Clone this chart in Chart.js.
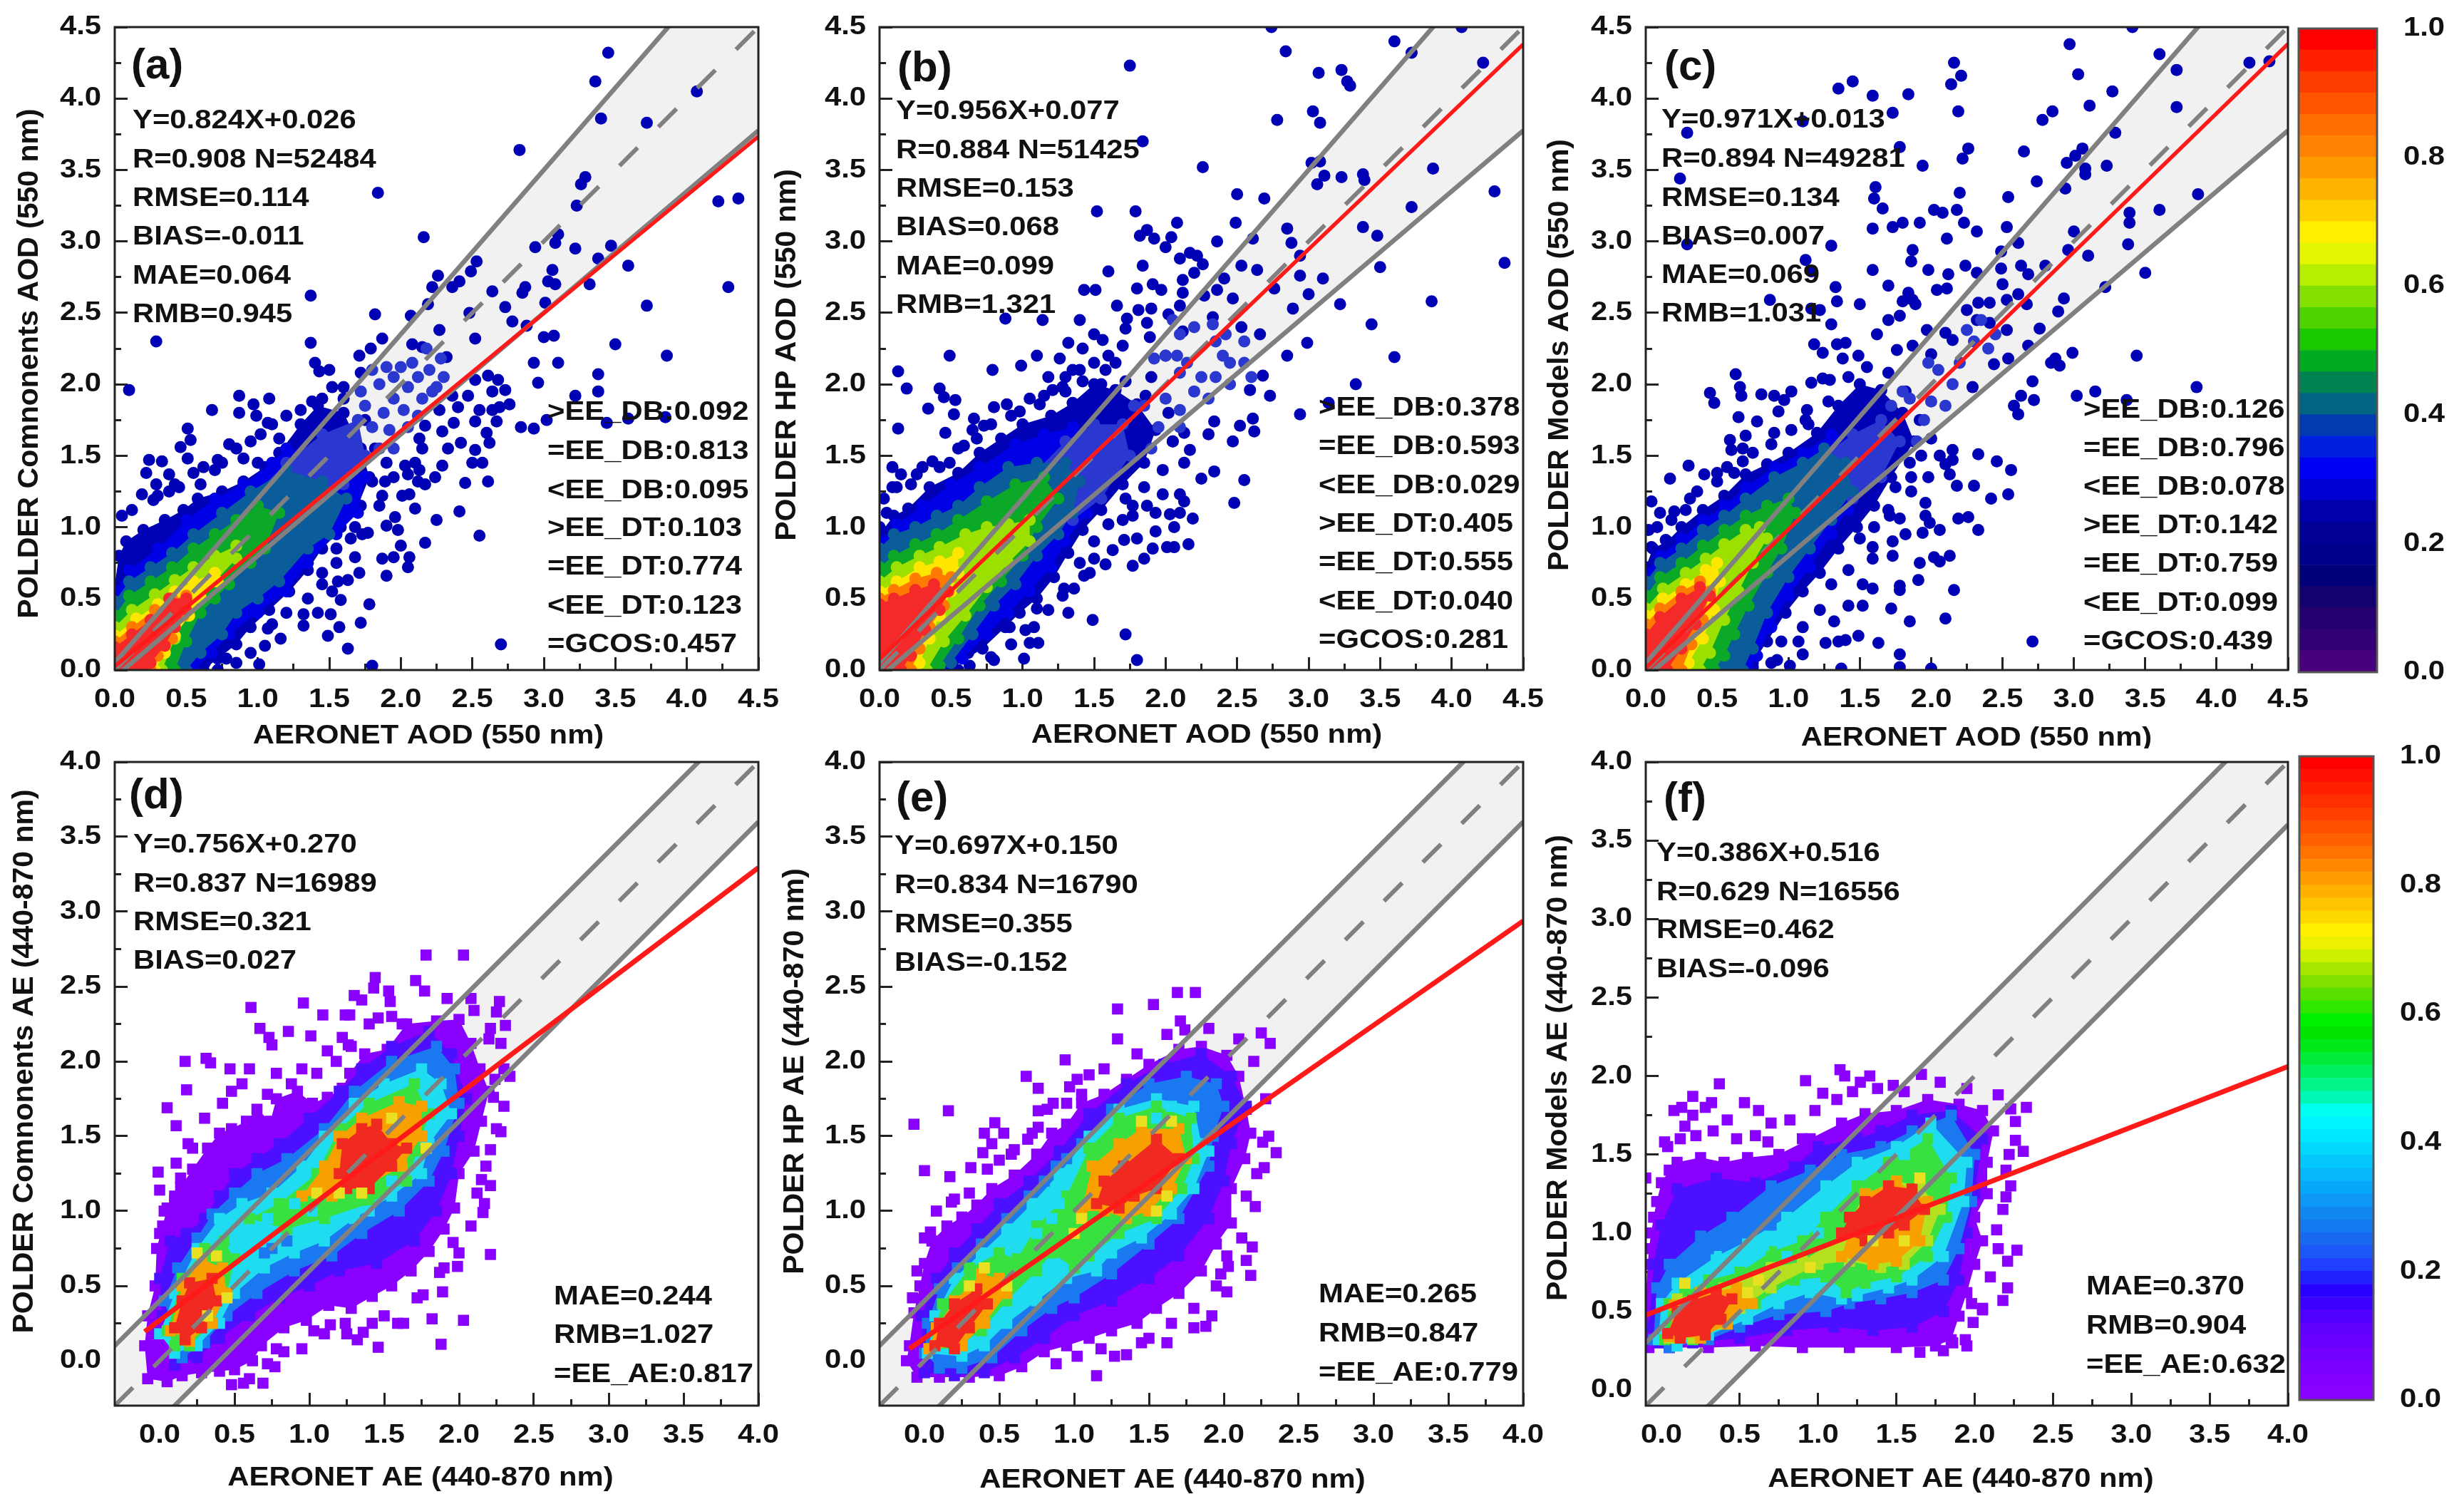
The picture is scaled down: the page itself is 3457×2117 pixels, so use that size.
<!DOCTYPE html>
<html>
<head>
<meta charset="utf-8">
<title>POLDER vs AERONET</title>
<script src="https://cdn.jsdelivr.net/npm/chart.js@4/dist/chart.umd.min.js"></script>
<style>
  html, body { margin: 0; padding: 0; background: #fff; }
  #page { position: relative; width: 3457px; height: 2117px; overflow: hidden; }
  canvas { position: absolute; }
</style>
</head>
<body>
<div id="page"></div>
<script>
// Tick positions
const aodTicks = [0, 0.5, 1, 1.5, 2, 2.5, 3, 3.5, 4, 4.5];
const aodMinorTicks = [0.25, 0.75, 1.25, 1.75, 2.25, 2.75, 3.25, 3.75, 4.25];
const aeTicks = [0, 0.5, 1, 1.5, 2, 2.5, 3, 3.5, 4];
const aeMinorTicks = [0.25, 0.75, 1.25, 1.75, 2.25, 2.75, 3.25, 3.75];
const colorbarLabels = ['0.0', '0.2', '0.4', '0.6', '0.8', '1.0'];

// Expected-error envelopes and 1:1 lines
const aodBand = [[0, 0.05], [4.5, 5.225], [4.5, 3.775], [0, -0.05]];
const aodUpper = [[0, 0.05], [4.5, 5.225]];
const aodLower = [[0, -0.05], [4.5, 3.775]];
const aodOneToOne = [[0, 0], [4.5, 4.5]];
const aeBand = [[-0.4, 0], [4, 4.4], [4, 3.6], [-0.4, -0.8]];
const aeUpper = [[-0.4, 0], [4, 4.4]];
const aeLower = [[-0.4, -0.8], [4, 3.6]];
const aeOneToOneWide = [[-0.3, -0.3], [4, 4]];
const aeOneToOneNarrow = [[-0.1, -0.1], [4, 4]];

// Regression lines
const fitA = [[0, 0.026], [4.5, 3.734]];
const fitB = [[0, 0.077], [4.5, 4.379]];
const fitC = [[0, 0.013], [4.5, 4.382]];
const fitD = [[-0.1, 0.194], [4, 3.294]];
const fitE = [[-0.1, 0.08], [4, 2.938]];
const fitF = [[-0.1, 0.477], [4, 2.06]];

// Scattered matchups, panel (a)
const scatterA = [[3.45,4.32],[3.36,4.12],[4.07,4.05],[3.40,3.86],[3.72,3.83],[2.83,3.64],[1.84,3.34],[3.29,3.45],[3.26,3.40],[3.23,3.25],[4.22,3.28],[4.36,3.30],[2.16,3.03],[3.10,3.05],[3.08,2.99],[2.94,2.96],[3.22,2.95],[3.47,2.97],[3.38,2.88],[2.53,2.86],[3.06,2.80],[3.59,2.83],[2.49,2.79],[2.26,2.76],[3.03,2.72],[3.08,2.70],[3.32,2.70],[4.29,2.68],[2.41,2.72],[2.36,2.68],[2.22,2.68],[2.64,2.65],[2.87,2.68],[2.85,2.64],[1.37,2.62],[2.19,2.56],[2.73,2.54],[3.01,2.57],[3.72,2.55],[1.82,2.49],[2.07,2.48],[2.48,2.50],[2.78,2.44],[2.88,2.41],[2.27,2.38],[2.52,2.32],[3.00,2.33],[3.07,2.34],[3.50,2.28],[0.29,2.30],[1.37,2.29],[1.87,2.32],[1.79,2.25],[1.71,2.20],[2.08,2.28],[2.15,2.26],[2.32,2.19],[3.10,2.15],[2.93,2.15],[3.86,2.20],[1.40,2.15],[1.50,2.10],[1.43,2.09],[1.72,2.08],[3.38,2.07],[2.96,2.01],[0.10,1.96],[0.87,1.92],[1.08,1.90],[0.97,1.86],[0.68,1.82],[0.87,1.80],[0.99,1.78],[3.22,1.92],[3.38,1.95],[1.07,1.73],[2.84,1.70],[2.93,1.69],[3.44,1.73],[3.59,1.76],[3.85,1.77],[3.02,1.75],[0.51,1.69],[0.53,1.61],[0.46,1.56],[0.51,1.48],[0.80,1.58],[0.24,1.47],[0.33,1.46],[0.22,1.38],[0.38,1.37],[0.29,1.30],[0.19,1.23],[0.27,1.19],[0.38,1.25],[0.45,1.28],[2.61,1.32],[2.45,1.31],[2.29,1.43],[2.24,1.35],[2.17,1.30],[2.41,1.11],[2.25,1.05],[2.55,0.94],[2.17,0.89],[2.00,0.87],[2.06,0.79],[2.05,0.72],[1.95,0.79],[1.87,0.78],[1.90,0.66],[1.98,0.98],[1.96,1.07],[2.10,1.13],[2.06,1.23],[2.70,0.18],[1.80,0.03],[1.63,0.15],[1.78,0.46],[1.72,0.33],[1.57,0.30],[1.49,0.24],[1.32,0.31],[1.32,0.39],[1.42,0.40],[1.51,0.39],[1.58,0.49],[1.52,0.55],[1.63,0.63],[1.71,0.68],[1.68,0.79],[1.56,0.62],[1.01,0.04],[1.05,0.17],[1.16,0.22],[1.07,0.29],[0.78,0.08],[0.63,0.05],[0.49,0.04],[1.77,0.96],[1.73,0.95],[1.90,1.01],[2.52,2.03],[2.61,2.06],[2.68,2.03],[2.73,1.96],[2.64,1.95],[2.76,1.86],[2.69,1.84],[2.55,1.82],[2.64,1.82],[2.67,1.74],[2.52,1.74],[2.60,1.66],[2.62,1.59],[2.52,1.54],[2.50,1.45],[2.57,1.45],[2.42,1.59],[2.33,1.55],[2.29,1.67],[2.37,1.73],[2.27,1.82],[2.40,1.84],[2.47,1.92],[2.36,1.92],[2.17,1.71],[2.13,1.62],[2.15,1.55],[2.10,1.45],[2.03,1.43],[2.12,1.32],[2.05,1.37],[2.01,1.22],[2.13,1.40],[1.89,1.32],[1.87,1.22],[1.85,1.15],[1.45,1.90],[1.52,1.98],[1.60,1.98],[1.33,1.68],[1.25,1.55],[1.15,1.62],[0.75,1.45],[0.70,1.40],[0.90,1.48],[1.00,1.45],[0.60,1.30],[1.55,0.75],[1.45,0.68],[1.65,0.92],[1.72,1.15],[1.80,1.32],[0.05,1.08],[0.12,1.12],[0.30,1.22],[0.42,1.30],[0.55,1.38],[0.62,1.42],[0.72,1.47],[0.85,1.55],[0.95,1.60],[1.02,1.65],[1.10,1.72],[1.20,1.78],[1.30,1.82],[1.38,1.88],[1.60,1.90],[1.75,1.75],[1.82,1.55],[1.90,1.45],[1.95,1.35],[1.68,1.00],[1.55,0.85],[1.45,0.60],[1.35,0.50],[1.20,0.40],[1.10,0.32],[0.95,0.12],[0.85,0.05],[0.72,0.0]];
const denseA = [[1.75,1.85],[1.85,2.0],[1.95,2.05],[2.0,2.12],[2.08,2.15],[1.8,2.1],[1.9,2.12],[2.12,2.05],[2.2,2.1],[2.28,2.18],[2.18,2.25],[2.05,1.98],[1.95,1.9],[2.02,1.82],[1.88,1.8],[1.8,1.7],[2.15,1.9],[1.92,1.68],[2.05,1.7],[1.85,1.55],[1.95,1.55],[2.22,1.95],[2.12,1.78],[1.72,1.95],[2.25,1.98],[2.3,2.05]];
const cloudA0 = [[0,0.6],[0.03,0.8],[0.08,0.9],[0.2,0.98],[0.35,1.05],[0.48,1.12],[0.58,1.2],[0.75,1.25],[0.9,1.32],[1.05,1.42],[1.15,1.52],[1.3,1.72],[1.42,1.85],[1.6,1.8],[1.72,1.55],[1.78,1.35],[1.7,1.15],[1.58,1],[1.45,0.85],[1.35,0.7],[1.22,0.55],[1.08,0.42],[0.95,0.3],[0.85,0.18],[0.72,0.08],[0.62,0],[0,0]];
const cloudA1 = [[0,0.55],[0.1,0.7],[0.3,0.85],[0.5,1.05],[0.7,1.2],[0.9,1.3],[1.1,1.45],[1.2,1.55],[1.55,1.5],[1.75,1.35],[1.7,1.1],[1.55,0.95],[1.35,0.75],[1.2,0.55],[1,0.4],[0.8,0.25],[0.68,0.12],[0.55,0],[0,0]];
const cloudA2 = [[0.95,1.2],[1.2,1.45],[1.45,1.65],[1.7,1.75],[1.75,1.5],[1.6,1.3],[1.4,1.15],[1.2,1.1]];
const cloudA3 = [[0,0.48],[0.1,0.62],[0.25,0.72],[0.4,0.82],[0.55,0.95],[0.75,1.1],[0.95,1.25],[1.2,1.4],[1.45,1.32],[1.62,1.2],[1.5,0.95],[1.35,0.85],[1.15,0.62],[1,0.5],[0.85,0.4],[0.75,0.25],[0.6,0.12],[0.5,0],[0,0]];
const cloudA4 = [[0,0.38],[0.1,0.52],[0.25,0.62],[0.4,0.72],[0.55,0.85],[0.7,0.95],[0.85,1.05],[1,1.15],[1.15,1.1],[1.05,0.85],[0.95,0.75],[0.8,0.6],[0.7,0.5],[0.6,0.4],[0.5,0.2],[0.42,0],[0,0]];
const cloudA5 = [[0,0.3],[0.12,0.42],[0.28,0.53],[0.42,0.63],[0.55,0.72],[0.7,0.8],[0.85,0.87],[0.85,0.78],[0.7,0.62],[0.6,0.52],[0.5,0.38],[0.42,0.22],[0.33,0],[0,0]];
const cloudA6 = [[0,0.24],[0.15,0.36],[0.3,0.46],[0.42,0.55],[0.55,0.62],[0.7,0.68],[0.72,0.62],[0.6,0.5],[0.52,0.38],[0.42,0.24],[0.35,0.12],[0.28,0],[0,0]];
const cloudA7 = [[0,0.2],[0.12,0.3],[0.28,0.42],[0.4,0.5],[0.5,0.52],[0.48,0.38],[0.4,0.22],[0.3,0.1],[0.25,0],[0,0]];
const cloudA8 = [[0,0.16],[0.12,0.25],[0.25,0.35],[0.38,0.5],[0.5,0.5],[0.5,0.42],[0.42,0.3],[0.35,0.17],[0.25,0.05],[0.2,0],[0,0]];

// Panel (b)
const scatterB = [[2.74,4.5],[3.60,4.40],[4.07,4.5],[2.84,4.33],[3.72,4.32],[1.75,4.23],[4.22,4.25],[3.07,4.18],[3.23,4.2],[3.27,4.12],[3.29,4.09],[3.03,3.91],[2.78,3.85],[3.08,3.83],[1.84,3.70],[3.02,3.55],[3.08,3.56],[3.87,3.51],[2.26,3.52],[3.11,3.46],[3.06,3.40],[3.23,3.45],[3.38,3.47],[3.39,3.43],[2.50,3.33],[2.69,3.30],[4.30,3.35],[3.72,3.24],[1.52,3.21],[1.79,3.21],[2.49,3.13],[2.08,3.13],[1.87,3.08],[3.38,3.10],[3.48,3.04],[2.85,3.09],[1.82,3.04],[1.92,3.02],[2.04,3.03],[2.0,2.96],[2.36,3.0],[2.61,3.02],[2.88,2.99],[2.10,2.88],[2.17,2.92],[2.22,2.9],[2.26,2.84],[4.37,2.85],[2.94,2.9],[3.5,2.82],[2.53,2.83],[2.64,2.80],[1.84,2.83],[1.6,2.79],[2.2,2.78],[2.94,2.76],[3.10,2.74],[2.41,2.74],[2.12,2.73],[1.91,2.70],[1.43,2.66],[1.51,2.66],[1.8,2.67],[1.97,2.66],[2.36,2.66],[2.12,2.64],[2.76,2.67],[3.0,2.63],[2.47,2.6],[3.86,2.58],[3.22,2.56],[2.1,2.55],[2.27,2.62],[1.66,2.55],[1.81,2.52],[1.9,2.53],[2.02,2.49],[2.89,2.53],[1.4,2.45],[1.14,2.45],[0.88,2.46],[1.73,2.46],[1.87,2.43],[1.72,2.39],[2.33,2.47],[2.53,2.4],[3.44,2.42],[1.5,2.35],[2.12,2.37],[1.89,2.33],[2.66,2.35],[2.99,2.29],[1.32,2.29],[1.42,2.25],[1.7,2.27],[1.56,2.31],[0.49,2.2],[2.85,2.2],[3.6,2.19],[1.1,2.2],[1.26,2.18],[0.13,2.09],[0.19,1.97],[0.79,2.1],[0.99,2.13],[0.42,1.97],[0.45,1.91],[0.53,1.89],[0.34,1.83],[0.52,1.79],[0.13,1.69],[0.46,1.66],[0.66,1.76],[0.73,1.71],[0.68,1.62],[3.33,2.0],[3.14,1.87],[2.94,1.79],[2.73,1.92],[2.68,2.06],[2.59,1.96],[2.61,1.76],[2.52,1.71],[2.62,1.67],[2.47,1.6],[2.34,1.74],[2.3,1.65],[2.34,1.39],[2.25,1.34],[2.55,1.33],[2.48,1.17],[2.19,1.06],[2.1,1.1],[2.13,1.18],[2.1,1.23],[1.98,1.23],[2.13,1.45],[2.17,1.54],[2.13,1.66],[2.05,1.6],[1.87,1.15],[1.93,1.1],[2.03,1.09],[2.06,1.0],[1.93,0.97],[2.16,0.88],[2.06,0.86],[2.01,0.86],[1.91,0.85],[1.85,0.78],[1.77,0.73],[1.77,1.15],[1.7,1.05],[1.77,1.08],[1.8,0.92],[1.71,0.91],[1.63,0.84],[1.58,0.74],[1.5,0.78],[1.47,0.68],[1.43,0.66],[1.36,0.57],[1.29,0.57],[1.49,0.35],[1.32,0.4],[1.1,0.43],[0.91,0.3],[1.08,0.3],[1.11,0.19],[1.05,0.19],[1.01,0.08],[1.72,0.25],[1.8,0.07],[0.63,0.03],[0.62,0.12],[0.78,0.09],[0.7,0.2],[0,1],[0.05,1.1],[0.09,1.42],[0.15,1.37],[0.09,1.28],[0.26,1.37],[0.37,1.46],[0.49,1.45],[0.59,1.57],[0.8,1.84],[0.89,1.86],[0.98,1.81],[1.12,1.86],[1.21,1.96],[1.3,2.05],[1.4,2.1],[1.5,2.15],[1.6,2.2],[1.3,1.95],[1.18,2.05],[1.35,2.1],[1.55,2.0],[1.65,2.15],[1.9,2.05],[2.0,2.2],[0.03,1.2],[0.12,1.28],[0.22,1.3],[0.3,1.42],[0.42,1.42],[0.55,1.55],[0.65,1.68],[0.78,1.72],[0.92,1.78],[1.05,1.9],[1.15,1.92],[1.28,1.98],[1.42,2.02],[1.58,2.1],[1.72,2.02],[1.86,1.92],[2.02,1.8],[2.05,1.6],[1.98,1.4],[1.85,1.28],[1.72,1.2],[1.6,1.02],[1.5,0.9],[1.4,0.75],[1.28,0.52],[1.18,0.42],[1.02,0.28],[0.92,0.18],[0.8,0.07],[0.55,0]];
const denseB = [[1.85,1.85],[1.95,1.7],[1.9,1.55],[2.0,1.9],[2.1,1.82],[2.2,1.95],[2.3,1.9],[2.1,2.08],[2.0,2.2],[1.92,2.18],[2.08,2.2],[2.15,2.15],[2.25,2.05],[1.78,1.85],[2.4,2.2],[2.45,2.15],[2.35,2.05],[2.1,2.35],[2.05,2.45],[2.2,2.4],[2.35,2.3],[2.33,2.42],[2.42,2.35],[2.55,2.15],[2.45,2.0],[2.55,2.3],[2.6,2.05],[2.1,1.7]];
const cloudB0 = [[0,0.95],[0.1,1.08],[0.2,1.13],[0.35,1.28],[0.55,1.38],[0.7,1.52],[0.85,1.62],[1,1.72],[1.2,1.78],[1.35,1.87],[1.5,2],[1.65,1.96],[1.8,1.86],[1.93,1.68],[1.85,1.45],[1.7,1.3],[1.55,1.12],[1.42,0.98],[1.32,0.82],[1.22,0.65],[1.1,0.5],[0.98,0.4],[0.88,0.3],[0.72,0.15],[0.48,0],[0,0]];
const cloudB1 = [[0,0.9],[0.12,1.02],[0.3,1.15],[0.5,1.3],[0.7,1.42],[0.95,1.58],[1.15,1.65],[1.35,1.7],[1.55,1.6],[1.6,1.35],[1.45,1.1],[1.3,0.9],[1.2,0.72],[1.05,0.55],[0.9,0.4],[0.75,0.25],[0.58,0.08],[0.48,0],[0,0]];
const cloudB2 = [[1.1,1.4],[1.3,1.6],[1.5,1.72],[1.7,1.72],[1.75,1.5],[1.55,1.2],[1.35,1.05]];
const cloudB3 = [[0,0.85],[0.1,0.95],[0.25,1],[0.4,1.08],[0.55,1.15],[0.7,1.28],[0.9,1.42],[1.1,1.45],[1.3,1.45],[1.4,1.32],[1.35,1.1],[1.25,0.95],[1.1,0.8],[0.95,0.6],[0.8,0.45],[0.65,0.25],[0.5,0.05],[0.42,0],[0,0]];
const cloudB4 = [[0,0.72],[0.1,0.8],[0.25,0.88],[0.4,0.95],[0.55,1.05],[0.75,1.18],[0.95,1.3],[1.15,1.35],[1.25,1.2],[1.1,1],[1,0.8],[0.85,0.62],[0.7,0.45],[0.55,0.22],[0.42,0.03],[0.35,0],[0,0]];
const cloudB5 = [[0,0.62],[0.12,0.72],[0.28,0.8],[0.42,0.86],[0.6,0.95],[0.75,1],[0.9,1.02],[1.05,1.05],[1.05,0.9],[0.9,0.75],[0.75,0.58],[0.6,0.38],[0.45,0.2],[0.33,0],[0,0]];
const cloudB6 = [[0,0.55],[0.12,0.62],[0.28,0.72],[0.42,0.76],[0.55,0.82],[0.55,0.68],[0.5,0.55],[0.42,0.38],[0.35,0.22],[0.28,0.05],[0.25,0],[0,0]];
const cloudB7 = [[0,0.5],[0.1,0.56],[0.25,0.64],[0.4,0.68],[0.5,0.65],[0.45,0.45],[0.35,0.3],[0.28,0.15],[0.22,0],[0,0]];
const cloudB8 = [[0,0.46],[0.1,0.5],[0.25,0.56],[0.38,0.6],[0.48,0.55],[0.42,0.42],[0.32,0.28],[0.22,0.1],[0.15,0],[0,0]];

// Panel (c)
const scatterC = [[3.41,4.5],[2.97,4.38],[3.6,4.31],[2.16,4.25],[3.72,4.2],[2.21,4.16],[3.03,4.17],[1.45,4.12],[1.35,4.07],[2.14,4.1],[4.23,4.25],[4.37,4.26],[3.27,4.05],[1.84,4.03],[1.59,4.02],[3.11,3.95],[3.72,3.94],[2.19,3.91],[1.73,3.9],[2.85,3.91],[2.78,3.85],[1.1,3.84],[0.29,3.76],[3.29,3.76],[1.78,3.66],[2.26,3.65],[2.65,3.63],[3.06,3.65],[2.22,3.58],[3.01,3.6],[2.95,3.55],[1.94,3.53],[3.08,3.51],[3.08,3.47],[3.23,3.53],[0.24,3.44],[2.74,3.42],[2.94,3.37],[1.61,3.38],[2.2,3.34],[1.6,3.3],[2.54,3.31],[3.87,3.33],[1.66,3.23],[2.02,3.22],[2.08,3.2],[2.18,3.22],[3.39,3.2],[3.6,3.22],[3.39,3.13],[2.23,3.13],[2.53,3.1],[1.92,3.13],[1.8,3.13],[1.73,3.1],[1.59,3.09],[2.32,3.07],[3.0,3.07],[0.29,2.98],[2.11,3.02],[1.3,2.97],[3.38,2.98],[2.61,2.99],[1.87,2.94],[2.49,2.93],[2.96,2.94],[3.1,2.9],[1.12,2.87],[1.86,2.86],[2.24,2.83],[2.32,2.78],[1.59,2.8],[1.98,2.8],[2.49,2.81],[2.63,2.83],[2.8,2.83],[3.5,2.78],[2.12,2.77],[2.68,2.77],[1.16,2.79],[2.5,2.7],[2.61,2.63],[1.7,2.69],[1.33,2.68],[3.22,2.68],[2.04,2.66],[2.11,2.67],[1.84,2.64],[1.87,2.59],[0.87,2.59],[1.34,2.58],[2.93,2.6],[2.33,2.57],[2.41,2.57],[2.53,2.59],[1.5,2.56],[2.67,2.56],[1.8,2.58],[1.89,2.56],[1.16,2.53],[1.22,2.52],[2.25,2.52],[2.89,2.51],[1.78,2.48],[1.7,2.45],[1.3,2.42],[2.32,2.45],[2.41,2.43],[2.76,2.39],[1.97,2.38],[1.62,2.35],[2.1,2.36],[2.53,2.38],[2.15,2.31],[1.87,2.27],[1.18,2.28],[1.4,2.29],[1.34,2.28],[2.68,2.27],[2.99,2.22],[1.24,2.22],[1.76,2.24],[3.44,2.2],[1.38,2.18],[1.49,2.2],[2.0,2.21],[2.54,2.18],[2.44,2.14],[2.87,2.18],[2.9,2.13],[2.84,2.15],[0.63,2.07],[0.66,1.98],[0.67,1.92],[0.45,1.94],[0.48,1.87],[0.81,1.93],[0.9,1.92],[1.02,1.95],[0.97,1.89],[0.93,1.81],[1.16,2.01],[1.24,2.04],[1.29,2.03],[3.86,1.98],[3.15,1.95],[3.02,1.92],[2.71,2.02],[2.63,1.92],[2.72,1.89],[2.58,1.85],[2.61,1.79],[3.37,1.89],[2.29,1.98],[0.65,1.77],[0.78,1.74],[0.9,1.66],[1.13,1.82],[1.14,1.72],[0.59,1.61],[0.7,1.64],[0.68,1.55],[0.68,1.46],[0.6,1.54],[0.3,1.43],[0.17,1.34],[0.41,1.37],[0.5,1.32],[0.57,1.42],[2.33,1.51],[2.46,1.46],[2.56,1.4],[2.54,1.23],[2.42,1.2],[2.3,1.29],[2.18,1.29],[2.13,1.37],[2.15,1.54],[2.15,1.47],[2.1,1.44],[1.98,1.35],[2.06,1.5],[1.93,1.5],[1.86,1.35],[1.86,1.25],[2.26,1.07],[2.19,1.06],[2.33,0.98],[2.06,0.98],[1.96,1.17],[1.94,0.96],[1.96,1.08],[1.99,1.03],[1.82,0.95],[1.71,1.08],[1.78,1.06],[1.73,0.9],[2.13,0.8],[2.02,0.79],[2.06,0.76],[1.92,0.75],[1.73,0.8],[1.59,0.86],[1.59,0.78],[1.91,0.63],[1.78,0.59],[1.78,0.56],[2.16,0.56],[1.59,0.57],[1.52,0.6],[1.52,0.45],[1.72,0.43],[2.1,0.36],[1.85,0.34],[1.42,0.45],[1.32,0.34],[1.63,0.19],[1.49,0.24],[1.4,0.21],[1.35,0.2],[1.26,0.19],[1.1,0.11],[0.92,0.07],[1.01,0.03],[1.37,0.01],[1.78,0.11],[1.78,0.02],[2.0,0.01],[2.71,0.2],[1.07,0.2],[0.04,1.18],[0.1,1.1],[0.2,1.11],[0.31,1.2],[0.14,0.91],[0.04,0.86],[0.02,0.98],[0.08,1.0],[0.18,1.05],[0.28,1.12],[0.36,1.25],[0.5,1.38],[0.62,1.38],[0.75,1.52],[0.88,1.58],[1.02,1.68],[1.12,1.75],[1.28,1.88],[1.42,2.05],[1.55,2.12],[1.7,2.08],[1.82,1.95],[1.92,1.75],[2.0,1.62],[1.85,1.45],[1.75,1.28],[1.7,1.12],[1.6,1.0],[1.5,0.92],[1.42,0.7],[1.3,0.6],[1.22,0.42],[1.1,0.3],[0.95,0.2],[0.88,0.05],[0.75,0.02]];
const denseC = [[1.85,1.9],[1.72,1.85],[1.95,1.75],[1.9,1.6],[2.0,1.88],[1.8,1.95],[2.1,1.85],[2.15,2.0],[2.05,2.1],[1.98,2.15],[2.2,2.15],[2.3,2.3],[2.25,2.38],[2.35,2.45],[2.4,2.25],[2.45,2.35]];
const cloudC0 = [[0,0.72],[0.05,0.85],[0.15,0.9],[0.25,1],[0.4,1.12],[0.55,1.22],[0.7,1.37],[0.85,1.44],[1,1.52],[1.2,1.66],[1.35,1.85],[1.5,2],[1.65,1.96],[1.8,1.8],[1.88,1.6],[1.72,1.35],[1.6,1.15],[1.48,1],[1.35,0.85],[1.22,0.68],[1.1,0.55],[0.98,0.4],[0.85,0.2],[0.75,0.05],[0.7,0],[0,0]];
const cloudC1 = [[0,0.68],[0.1,0.8],[0.25,0.92],[0.4,1.05],[0.55,1.15],[0.7,1.28],[0.9,1.42],[1.1,1.52],[1.3,1.65],[1.5,1.6],[1.55,1.35],[1.42,1.12],[1.3,0.95],[1.15,0.72],[1,0.52],[0.88,0.3],[0.78,0.1],[0.72,0],[0,0]];
const cloudC2 = [[1.25,1.5],[1.45,1.65],[1.65,1.75],[1.78,1.6],[1.65,1.35],[1.45,1.2]];
const cloudC3 = [[0,0.62],[0.1,0.75],[0.25,0.85],[0.4,0.98],[0.55,1.08],[0.7,1.2],[0.9,1.35],[1.1,1.45],[1.25,1.55],[1.4,1.45],[1.45,1.25],[1.3,1.05],[1.15,0.85],[1,0.65],[0.85,0.4],[0.75,0.15],[0.68,0],[0.45,0],[0,0]];
const cloudC4 = [[0,0.52],[0.1,0.65],[0.25,0.75],[0.4,0.87],[0.55,0.98],[0.7,1.08],[0.85,1.15],[1,1.2],[1.05,1.1],[0.95,0.85],[0.85,0.68],[0.72,0.45],[0.62,0.25],[0.55,0.1],[0.48,0],[0,0]];
const cloudC5 = [[0,0.43],[0.12,0.57],[0.28,0.68],[0.42,0.78],[0.55,0.88],[0.7,0.98],[0.8,1],[0.85,0.92],[0.75,0.75],[0.65,0.55],[0.55,0.35],[0.45,0.12],[0.38,0],[0,0]];
const cloudC6 = [[0,0.38],[0.12,0.5],[0.28,0.6],[0.42,0.7],[0.5,0.75],[0.52,0.62],[0.48,0.42],[0.4,0.22],[0.3,0.05],[0.28,0],[0,0]];
const cloudC7 = [[0,0.32],[0.1,0.43],[0.25,0.55],[0.38,0.62],[0.45,0.55],[0.4,0.35],[0.32,0.18],[0.25,0],[0,0]];
const cloudC8 = [[0,0.25],[0.1,0.37],[0.25,0.5],[0.38,0.58],[0.45,0.52],[0.35,0.32],[0.25,0.15],[0.15,0],[0,0]];

// Panel (d)
const scatterD = [[1.78,2.71],[2.03,2.71],[1.44,2.56],[1.71,2.54],[1.43,2.49],[1.3,2.44],[1.35,2.41],[1.53,2.47],[1.54,2.4],[1.77,2.47],[0.61,2.36],[0.96,2.39],[1.09,2.31],[1.24,2.31],[1.27,2.31],[1.46,2.29],[2.27,2.4],[2.1,2.34],[2.25,2.33],[2.31,2.24],[2.21,2.22],[2.28,2.12],[0.67,2.22],[0.73,2.16],[0.75,2.11],[0.86,2.2],[1.01,2.17],[1.22,2.16],[1.26,2.11],[1.12,2.07],[0.17,2],[0.31,2.02],[0.34,1.99],[0.47,1.95],[0.18,1.81],[0.05,1.69],[0.11,1.57],[0.19,1.45],[-0.01,1.26],[0,1.14],[0.11,1.32],[2.34,1.9],[2.24,1.88],[2.23,1.76],[2.28,1.53],[2.21,1.41],[2.15,1.21],[2.21,1.17],[2.17,1.05],[2.16,0.99],[2.21,0.71],[1.99,0.63],[1.96,0.79],[1.87,0.59],[1.89,0.46],[1.76,0.44],[1.82,0.28],[2.03,0.27],[1.59,0.25],[1.63,0.25],[1.88,0.11],[1.46,0.09],[1.32,0.14],[1.36,0.19],[1.24,0.25],[1.14,0.24],[1.03,0.2],[0.83,0.06],[0.77,-0.04],[0.69,-0.15],[0.56,-0.15],[0.48,-0.16],[0,0.85],[0.03,1.0],[0.1,1.1],[0.14,1.22],[0.22,1.42],[0.3,1.62],[0.42,1.72],[0.48,1.8],[0.55,1.85],[0.6,1.95],[0.72,1.78],[0.78,1.92],[0.88,1.85],[0.95,1.95],[1.05,1.92],[1.18,2.0],[1.28,2.1],[1.4,2.25],[1.55,2.3],[1.62,2.25],[1.92,2.42],[2.08,2.42],[2.2,2.15],[2.3,1.95],[2.3,1.7],[2.25,1.55],[2.18,1.3],[2.12,1.12],[2.08,0.9],[2.0,0.72],[1.9,0.62],[1.72,0.42],[1.5,0.3],[1.42,0.25],[1.25,0.18],[1.1,0.18],[0.95,0.08],[0.78,0.08],[0.72,-0.02],[0.6,-0.12]];
const cloudD0 = [[-0.08,-0.12],[-0.1,0.1],[-0.08,0.3],[-0.03,0.5],[-0.02,0.75],[0.02,0.9],[0.05,1.02],[0.1,1.07],[0.14,1.16],[0.22,1.28],[0.32,1.42],[0.4,1.52],[0.48,1.55],[0.58,1.6],[0.65,1.68],[0.74,1.6],[0.78,1.75],[0.92,1.8],[1.02,1.72],[1.12,1.76],[1.22,1.82],[1.27,1.92],[1.37,2.05],[1.52,2.08],[1.65,2.25],[1.85,2.27],[2,2.28],[2.08,2.12],[2.14,1.95],[2.2,1.8],[2.15,1.6],[2.1,1.4],[2,1.25],[1.97,1.02],[1.9,0.88],[1.8,0.73],[1.68,0.6],[1.55,0.5],[1.42,0.43],[1.28,0.35],[1.13,0.37],[0.98,0.27],[0.83,0.22],[0.68,0.1],[0.62,0],[0.5,-0.06],[0.4,-0.07],[0.28,-0.08],[0.15,-0.1],[0.05,-0.14]];
const cloudD1 = [[0.02,0.3],[0,0.55],[0.07,0.8],[0.18,0.85],[0.3,0.95],[0.4,1.1],[0.5,1.25],[0.65,1.35],[0.8,1.45],[1,1.62],[1.2,1.8],[1.35,1.95],[1.55,2.1],[1.8,2.2],[1.95,2.05],[2.05,1.75],[2,1.5],[1.95,1.25],[1.85,1],[1.7,0.8],[1.45,0.65],[1.2,0.6],[1,0.5],[0.8,0.42],[0.6,0.3],[0.4,0.15],[0.25,0.02],[0.1,-0.03]];
const cloudD2 = [[0.03,0.4],[0.12,0.62],[0.25,0.82],[0.35,0.98],[0.5,1.12],[0.65,1.25],[0.85,1.35],[1.1,1.55],[1.3,1.8],[1.55,2],[1.85,2.1],[1.97,1.95],[2,1.72],[1.9,1.4],[1.8,1.2],[1.6,1],[1.35,0.85],[1.15,0.7],[0.9,0.6],[0.65,0.45],[0.45,0.3],[0.3,0.12],[0.15,0.02]];
const cloudD3 = [[0,0.18],[0.1,0.45],[0.25,0.75],[0.4,0.95],[0.55,1.05],[0.75,1.12],[0.95,1.3],[1.1,1.5],[1.3,1.72],[1.5,1.85],[1.75,1.95],[1.88,1.85],[1.95,1.65],[1.8,1.45],[1.75,1.25],[1.55,1.1],[1.3,0.95],[1.1,0.8],[0.9,0.72],[0.7,0.62],[0.5,0.45],[0.4,0.25],[0.25,0.1],[0.1,0.05]];
const cloudD4 = [[0.05,0.2],[0.15,0.55],[0.3,0.75],[0.43,0.8],[0.5,0.68],[0.45,0.45],[0.35,0.25],[0.2,0.1],[0.1,0.1]];
const cloudD5 = [[0.6,0.95],[0.8,1.05],[1.05,1.25],[1.2,1.55],[1.4,1.72],[1.7,1.85],[1.8,1.65],[1.72,1.4],[1.65,1.2],[1.4,1.05],[1.1,0.95],[0.85,0.88]];
const cloudD6 = [[0.07,0.2],[0.15,0.5],[0.28,0.68],[0.42,0.62],[0.45,0.45],[0.35,0.25],[0.2,0.13]];
const cloudD7 = [[0.95,1.1],[1.1,1.3],[1.2,1.5],[1.35,1.62],[1.6,1.73],[1.75,1.7],[1.75,1.5],[1.62,1.3],[1.4,1.18],[1.15,1.1]];
const cloudD8 = [[0.1,0.22],[0.15,0.4],[0.2,0.52],[0.35,0.55],[0.38,0.4],[0.28,0.22],[0.17,0.14]];
const cloudD9 = [[1.2,1.25],[1.22,1.45],[1.35,1.55],[1.45,1.58],[1.55,1.45],[1.65,1.42],[1.55,1.3],[1.4,1.15],[1.25,1.15]];
const yellowD = [[0.25,0.72],[0.38,0.7],[0.45,0.42],[0.32,0.3],[1.2,1.12],[1.05,1.12],[1.35,1.12],[1.78,1.42],[1.55,1.62]];
const cyanD = [[0.62,0.85],[0.72,0.95],[0.9,1.05],[1.02,1],[0.55,0.8],[1.55,1.2],[1.4,1]];
const blueD = [[0.75,0.75],[0.85,0.8],[0.7,0.72]];

// Panel (e)
const scatterE = [[1.69,2.46],[1.81,2.46],[1.29,2.35],[1.53,2.38],[1.71,2.27],[1.74,2.21],[1.29,2.15],[2.25,2.19],[2.31,2.12],[0.94,2.01],[0.68,1.9],[0.76,1.82],[0.97,1.83],[0.86,1.72],[0.76,1.67],[1.05,1.78],[1.1,1.91],[0.16,1.67],[-0.07,1.58],[0.47,1.59],[0.53,1.52],[0.4,1.52],[0.45,1.45],[0.39,1.39],[0.76,1.56],[0.69,1.48],[0.6,1.41],[0.5,1.34],[0,1.27],[0.17,1.23],[0.31,1.29],[0.18,1.06],[0.04,0.86],[2.35,1.39],[2.27,1.29],[2.26,1.46],[2.21,1.03],[2.19,0.76],[2.15,0.67],[2.18,0.57],[2.03,0.63],[1.98,0.58],[2.02,0.46],[1.92,0.3],[1.88,0.23],[1.8,0.22],[1.62,0.12],[1.27,0.03],[1.15,-0.1],[1.45,0.12],[1.35,0.04],[-0.08,0.42],[-0.05,0.6],[0,0.82],[0.08,1.0],[0.2,1.08],[0.3,1.12],[0.42,1.28],[0.58,1.38],[0.72,1.52],[0.82,1.68],[0.95,1.72],[1.02,1.88],[1.2,1.95],[1.42,2.05],[1.62,2.18],[1.9,2.22],[2.1,2.15],[2.2,2.0],[2.28,1.75],[2.3,1.5],[2.22,1.25],[2.15,1.1],[2.12,0.82],[2.02,0.7],[1.95,0.5],[1.8,0.35],[1.65,0.25],[1.5,0.15],[1.18,0.08],[1.02,0.03],[0.88,-0.02]];
const cloudE0 = [[-0.12,0],[-0.1,0.1],[-0.07,0.32],[-0.03,0.5],[0,0.65],[0.05,0.8],[0.15,0.9],[0.25,0.96],[0.35,1.04],[0.45,1.15],[0.6,1.24],[0.75,1.38],[0.85,1.52],[0.95,1.58],[1.05,1.72],[1.2,1.78],[1.35,1.88],[1.5,1.98],[1.7,2.08],[1.85,2.1],[2.02,2.04],[2.1,1.9],[2.15,1.68],[2.18,1.52],[2.14,1.35],[2.05,1.15],[2.05,0.92],[1.95,0.78],[1.85,0.6],[1.7,0.45],[1.55,0.35],[1.42,0.25],[1.25,0.2],[1.1,0.15],[0.95,0.1],[0.8,0.06],[0.65,-0.04],[0.5,-0.1],[0.3,-0.11],[0.1,-0.11],[-0.05,-0.11]];
const cloudE1 = [[-0.02,0.3],[0.08,0.55],[0.2,0.72],[0.35,0.88],[0.5,1.05],[0.7,1.2],[0.9,1.4],[1.1,1.65],[1.35,1.85],[1.6,1.98],[1.85,2.05],[2.05,1.9],[2.15,1.7],[2.05,1.45],[2,1.2],[1.9,0.95],[1.7,0.7],[1.5,0.55],[1.25,0.4],[1,0.3],[0.8,0.15],[0.6,0.02],[0.4,-0.08],[0.2,-0.1],[0,-0.08]];
const cloudE2 = [[0,0.05],[0.02,0.25],[0.1,0.48],[0.22,0.62],[0.38,0.78],[0.55,0.95],[0.7,1.1],[0.88,1.3],[1.05,1.45],[1.25,1.68],[1.5,1.85],[1.75,1.9],[1.95,1.85],[2,1.7],[1.93,1.5],[1.9,1.3],[1.7,0.95],[1.5,0.78],[1.25,0.58],[1,0.42],[0.85,0.35],[0.65,0.2],[0.45,0.02],[0.25,-0.05],[0.1,-0.05]];
const cloudE3 = [[0.02,0.05],[0.07,0.3],[0.2,0.55],[0.38,0.72],[0.55,0.88],[0.72,1.05],[0.9,1.25],[1.1,1.5],[1.3,1.68],[1.55,1.75],[1.8,1.7],[1.85,1.45],[1.9,1.4],[1.8,1.15],[1.65,0.98],[1.45,0.82],[1.25,0.72],[1.15,0.6],[0.95,0.55],[0.75,0.4],[0.55,0.25],[0.4,0.1],[0.25,0.03]];
const cloudE4 = [[0.03,0.08],[0.12,0.38],[0.3,0.62],[0.5,0.72],[0.62,0.68],[0.75,0.9],[0.95,1.1],[1.1,1.42],[1.3,1.62],[1.55,1.7],[1.78,1.62],[1.8,1.35],[1.72,1.15],[1.55,0.95],[1.3,0.85],[1.1,0.7],[1,0.62],[0.85,0.72],[0.75,0.6],[0.55,0.4],[0.38,0.2],[0.2,0.08]];
const cloudE5 = [[0.03,0.08],[0.08,0.22],[0.2,0.4],[0.38,0.58],[0.5,0.55],[0.55,0.45],[0.4,0.25],[0.25,0.1]];
const cloudE6 = [[1.05,1],[1.12,1.3],[1.3,1.45],[1.45,1.55],[1.7,1.55],[1.75,1.35],[1.65,1.15],[1.5,1],[1.35,0.95],[1.2,1]];
const cloudE7 = [[0.07,0.1],[0.1,0.25],[0.2,0.38],[0.35,0.48],[0.42,0.38],[0.3,0.22],[0.2,0.08]];
const cloudE8 = [[1.15,1.05],[1.2,1.2],[1.33,1.3],[1.55,1.48],[1.7,1.35],[1.55,1.15],[1.4,1.1],[1.3,1.02]];
const yellowE = [[0.4,0.62],[0.3,0.5],[0.55,0.5],[1.45,1.6],[1.65,1.6],[1.62,1.1],[1.55,1],[1,0.85],[1.05,0.95]];
const cyanE = [[0.75,0.85],[0.9,1.05],[0.85,0.95],[1.55,1.62],[1.65,1.7]];
const blueE = [[0.8,1.2],[0.95,1.35]];

// Panel (f)
const scatterF = [[1.14,2.04],[1.17,2],[0.92,1.97],[1.27,1.96],[1.33,2],[0.37,1.95],[1.66,2.01],[1.03,1.89],[0.53,1.83],[0.32,1.83],[0.2,1.87],[0.13,1.8],[0.62,1.78],[2.33,1.8],[2.23,1.79],[2.26,1.71],[2.26,1.59],[2.31,1.52],[2.2,1.23],[2.23,1.3],[2.27,0.89],[2.21,0.82],[2.21,0.65],[2.18,0.57],[2.05,0.51],[1.99,0.43],[1.94,0.32],[1.86,0.3],[1.48,1.94],[-0.1,1.35],[-0.06,1.0],[-0.08,0.8],[0.02,1.58],[0.08,1.78],[0.2,1.75],[0.28,1.8],[0.42,1.72],[0.7,1.7],[0.82,1.72],[0.98,1.78],[1.12,1.85],[1.22,1.9],[1.38,1.92],[1.55,1.9],[1.78,1.96],[1.95,1.92],[2.15,1.88],[2.22,1.5],[2.2,1.4],[2.18,1.15],[2.14,1.02],[2.15,0.9],[2.1,0.72],[2.05,0.52],[1.98,0.55],[1.95,0.28],[1.8,0.25],[1.65,0.24],[0.04,1.55],[0.12,1.6],[0.22,1.62],[0.33,1.65],[0.48,1.6],[0.6,1.62],[0.68,1.58],[0.15,1.68],[0.9,1.6]];
const cloudF0 = [[-0.1,0.3],[-0.1,0.6],[-0.08,0.9],[-0.05,1.1],[-0.03,1.2],[0,1.32],[0.05,1.4],[0.1,1.45],[0.25,1.48],[0.4,1.45],[0.55,1.48],[0.75,1.5],[0.95,1.6],[1.15,1.7],[1.3,1.76],[1.5,1.78],[1.7,1.85],[1.9,1.82],[2.05,1.78],[2.12,1.65],[2.08,1.45],[2.08,1.25],[2,1.1],[2.05,0.95],[2,0.8],[1.95,0.62],[1.9,0.47],[1.85,0.32],[1.75,0.28],[1.5,0.27],[1.2,0.27],[0.9,0.27],[0.6,0.28],[0.3,0.27],[0.05,0.27],[-0.08,0.27]];
const cloudF1 = [[-0.08,0.4],[-0.05,0.8],[0,1.05],[0.1,1.28],[0.35,1.35],[0.6,1.32],[0.85,1.42],[1,1.55],[1.25,1.6],[1.4,1.65],[1.6,1.75],[1.85,1.78],[2.05,1.6],[2,1.25],[1.95,1],[1.9,0.7],[1.8,0.5],[1.6,0.4],[1.35,0.38],[1.1,0.4],[0.8,0.38],[0.5,0.33],[0.2,0.3],[-0.02,0.3]];
const cloudF2 = [[-0.05,0.32],[-0.03,0.65],[0.05,0.8],[0.25,0.98],[0.45,1.1],[0.7,1.3],[0.95,1.4],[1.15,1.5],[1.4,1.55],[1.6,1.65],[1.85,1.75],[2,1.5],[1.98,1.2],[1.9,0.9],[1.8,0.7],[1.6,0.62],[1.4,0.58],[1.2,0.55],[1.05,0.5],[0.75,0.48],[0.5,0.4],[0.3,0.32],[0.05,0.27]];
const cloudF3 = [[-0.02,0.32],[0,0.55],[0.1,0.68],[0.35,0.85],[0.55,0.95],[0.8,1.1],[1.05,1.3],[1.25,1.45],[1.5,1.55],[1.72,1.7],[1.95,1.45],[1.93,1.2],[1.8,0.85],[1.6,0.7],[1.45,0.65],[1.25,0.6],[1.15,0.58],[0.95,0.62],[0.75,0.55],[0.55,0.45],[0.3,0.35],[0.1,0.28]];
const cloudF4 = [[0.02,0.32],[0.05,0.55],[0.15,0.62],[0.3,0.7],[0.5,0.75],[0.7,0.88],[0.9,0.95],[1.05,1.1],[1.25,1.3],[1.45,1.45],[1.7,1.6],[1.85,1.35],[1.82,1.1],[1.7,0.85],[1.5,0.72],[1.3,0.68],[1.18,0.62],[1.05,0.72],[0.85,0.7],[0.6,0.55],[0.4,0.42],[0.2,0.32]];
const cloudF5 = [[0.05,0.33],[0.1,0.58],[0.25,0.62],[0.4,0.65],[0.7,0.78],[0.9,0.82],[1.15,0.98],[1.3,1.25],[1.5,1.33],[1.65,1.3],[1.78,1.15],[1.7,0.95],[1.55,0.8],[1.4,0.78],[1.2,0.82],[1,0.8],[0.7,0.65],[0.5,0.52],[0.35,0.42],[0.2,0.33]];
const cloudF6 = [[0.05,0.34],[0.08,0.54],[0.25,0.62],[0.48,0.65],[0.58,0.55],[0.42,0.42],[0.25,0.33]];
const cloudF7 = [[1.15,0.85],[1.2,1],[1.3,1.25],[1.5,1.33],[1.7,1.2],[1.65,0.95],[1.5,0.82],[1.35,0.8]];
const cloudF8 = [[0.04,0.36],[0.1,0.5],[0.2,0.57],[0.35,0.62],[0.45,0.58],[0.38,0.45],[0.28,0.35],[0.12,0.33]];
const cloudF9 = [[1.15,1],[1.2,1.1],[1.3,1.2],[1.45,1.3],[1.6,1.28],[1.68,1.15],[1.55,1.05],[1.45,1],[1.3,0.95]];
const yellowF = [[0.15,0.68],[0.55,0.62],[0.62,0.7],[0.95,0.78],[1.35,0.95],[1.55,0.95],[1.65,1.35]];
const cyanF = [[0.65,0.92],[0.8,0.85],[1,1],[1.55,1.5]];
const blueF = [[0.3,0.9],[0.55,1],[0.7,1.05]];

// Colour bars, listed from the 0.0 end to the 1.0 end
const aodColorSteps = ['#46007a','#320073','#24006e','#14006e','#000078','#00008c','#000096','#0000aa','#0000d2','#0000f5','#0020e0','#003cb0','#006482','#008251','#00aa1e','#1ac800','#50d400','#84e000','#b8ef00','#e6f500','#fff000','#ffd000','#ffb400','#ff9a00','#ff8200','#ff6e00','#ff5500','#ff3c00','#ff2000','#ff0000'];
const aeColorSteps = ['#8a00ff','#8400ff','#7c00ff','#7400ff','#6a00ff','#6000ff','#5000ff','#3c00ff','#2800ff','#2020ff','#2040ff','#1c58f8','#1868f0','#1478f0','#1088f0','#0c98f4','#08a8f8','#06b8fa','#04c8fc','#02d8fe','#00e8ff','#00f4ff','#00fff0','#00f8b4','#00f488','#00f060','#00ec38','#00e818','#00e400','#00f000','#30e800','#58e000','#80e000','#a8e800','#ccf000','#eef000','#fff000','#ffd800','#ffc400','#ffb000','#ff9c00','#ff8800','#ff7400','#ff6000','#ff5000','#ff4000','#ff3000','#ff2000','#ff1000','#ff0000'];

// Density shades used by the clouds
const aodDark = '#0000b4';
const aodBright = '#0000e6';
const aodMid = '#2a38d0';
const aodTeal = '#0a5c9a';
const aodGreen = '#0ca828';
const aodLime = '#9be000';
const aodYellow = '#ffe600';
const aodOrange = '#ff7a00';
const aodRed = '#f42a2a';
const aeViolet = '#8a00ff';
const aeIndigo = '#4a10ff';
const aeBlue = '#1a78f0';
const aeCyan = '#20dcf0';
const aeGreen = '#38e040';
const aeYellow = '#e8e020';
const aeLime = '#b4e020';
const aeOrange = '#f8a000';
const aeRed = '#f02a20';

const panels = [
  {
    name: '(a)', box: [0, 0, 1100, 1050], plot: [161, 1064, 38, 940],
    xRange: [0, 4.5], yRange: [0, 4.5], ticks: aodTicks, minor: aodMinorTicks,
    band: aodBand, upper: aodUpper, lower: aodLower, oneToOne: aodOneToOne, fit: fitA, fitWidth: 5.5,
    scatter: scatterA, scatterColor: aodDark, marker: 'circle',
    clouds: [[cloudA0, aodDark], [cloudA1, aodBright], [cloudA2, aodMid], [cloudA3, aodTeal], [cloudA4, aodGreen], [cloudA5, aodLime], [cloudA6, aodYellow], [cloudA7, aodOrange], [cloudA8, aodRed]],
    specks: [[denseA, aodMid]],
    xTitle: ['AERONET AOD (550 nm)', 601, 1033], yTitle: ['POLDER Comnonents AOD (550 nm)', 42, 510],
    label: [184, 93],
    statsLeft: { x: 186, ys: [170, 225, 279, 333, 388, 442], lines: ['Y=0.824X+0.026', 'R=0.908 N=52484', 'RMSE=0.114', 'BIAS=-0.011', 'MAE=0.064', 'RMB=0.945'] },
    statsRight: { x: 768, ys: [579, 634, 689, 742, 796, 851, 905], lines: ['>EE_DB:0.092', '=EE_DB:0.813', '<EE_DB:0.095', '>EE_DT:0.103', '=EE_DT:0.774', '<EE_DT:0.123', '=GCOS:0.457'] }
  },
  {
    name: '(b)', box: [1085, 0, 1080, 1050], plot: [1234, 2137, 38, 940],
    xRange: [0, 4.5], yRange: [0, 4.5], ticks: aodTicks, minor: aodMinorTicks,
    band: aodBand, upper: aodUpper, lower: aodLower, oneToOne: aodOneToOne, fit: fitB, fitWidth: 5.5,
    scatter: scatterB, scatterColor: aodDark, marker: 'circle',
    clouds: [[cloudB0, aodDark], [cloudB1, aodBright], [cloudB2, aodMid], [cloudB3, aodTeal], [cloudB4, aodGreen], [cloudB5, aodLime], [cloudB6, aodYellow], [cloudB7, aodOrange], [cloudB8, aodRed]],
    specks: [[denseB, aodMid]],
    xTitle: ['AERONET AOD (550 nm)', 1693, 1032], yTitle: ['POLDER HP AOD (550 nm)', 1105, 498],
    label: [1259, 97],
    statsLeft: { x: 1257, ys: [157, 212, 266, 320, 375, 429], lines: ['Y=0.956X+0.077', 'R=0.884 N=51425', 'RMSE=0.153', 'BIAS=0.068', 'MAE=0.099', 'RMB=1.321'] },
    statsRight: { x: 1850, ys: [573, 627, 682, 736, 790, 845, 899], lines: ['>EE_DB:0.378', '=EE_DB:0.593', '<EE_DB:0.029', '>EE_DT:0.405', '=EE_DT:0.555', '<EE_DT:0.040', '=GCOS:0.281'] }
  },
  {
    name: '(c)', box: [2165, 0, 1085, 1050], plot: [2309, 3210, 38, 940],
    xRange: [0, 4.5], yRange: [0, 4.5], ticks: aodTicks, minor: aodMinorTicks,
    band: aodBand, upper: aodUpper, lower: aodLower, oneToOne: aodOneToOne, fit: fitC, fitWidth: 5.5,
    scatter: scatterC, scatterColor: aodDark, marker: 'circle',
    clouds: [[cloudC0, aodDark], [cloudC1, aodBright], [cloudC2, aodMid], [cloudC3, aodTeal], [cloudC4, aodGreen], [cloudC5, aodLime], [cloudC6, aodYellow], [cloudC7, aodOrange], [cloudC8, aodRed]],
    specks: [[denseC, aodMid]],
    xTitle: ['AERONET AOD (550 nm)', 2773, 1036], yTitle: ['POLDER Models AOD (550 nm)', 2189, 498],
    label: [2335, 95],
    statsLeft: { x: 2331, ys: [169, 224, 279, 333, 387, 441], lines: ['Y=0.971X+0.013', 'R=0.894 N=49281', 'RMSE=0.134', 'BIAS=0.007', 'MAE=0.069', 'RMB=1.031'] },
    statsRight: { x: 2923, ys: [576, 630, 684, 738, 792, 847, 901], lines: ['>EE_DB:0.126', '=EE_DB:0.796', '<EE_DB:0.078', '>EE_DT:0.142', '=EE_DT:0.759', '<EE_DT:0.099', '=GCOS:0.439'] }
  },
  {
    name: '(d)', box: [0, 1050, 1100, 1067], plot: [161, 1064, 1069, 1972],
    xRange: [-0.3, 4], yRange: [-0.3, 4], ticks: aeTicks, minor: aeMinorTicks,
    band: aeBand, upper: aeUpper, lower: aeLower, oneToOne: aeOneToOneWide, fit: fitD, fitWidth: 7,
    scatter: scatterD, scatterColor: aeViolet, marker: 'rect',
    clouds: [[cloudD0, aeViolet], [cloudD1, aeIndigo], [cloudD2, aeBlue], [cloudD3, aeCyan], [cloudD4, aeGreen], [cloudD5, aeGreen], [cloudD6, aeOrange], [cloudD7, aeOrange], [cloudD8, aeRed], [cloudD9, aeRed]],
    specks: [[yellowD, aeYellow], [cyanD, aeCyan], [blueD, aeBlue]],
    xTitle: ['AERONET AE (440-870 nm)', 590, 2074], yTitle: ['POLDER Comnonents AE (440-870 nm)', 35, 1489],
    label: [181, 1117],
    statsLeft: { x: 187, ys: [1186, 1241, 1295, 1349], lines: ['Y=0.756X+0.270', 'R=0.837 N=16989', 'RMSE=0.321', 'BIAS=0.027'] },
    statsRight: { x: 777, ys: [1820, 1874, 1929], lines: ['MAE=0.244', 'RMB=1.027', '=EE_AE:0.817'] }
  },
  {
    name: '(e)', box: [1085, 1050, 1080, 1067], plot: [1234, 2137, 1069, 1972],
    xRange: [-0.3, 4], yRange: [-0.3, 4], ticks: aeTicks, minor: aeMinorTicks,
    band: aeBand, upper: aeUpper, lower: aeLower, oneToOne: aeOneToOneWide, fit: fitE, fitWidth: 7,
    scatter: scatterE, scatterColor: aeViolet, marker: 'rect',
    clouds: [[cloudE0, aeViolet], [cloudE1, aeIndigo], [cloudE2, aeBlue], [cloudE3, aeCyan], [cloudE4, aeGreen], [cloudE5, aeOrange], [cloudE6, aeOrange], [cloudE7, aeRed], [cloudE8, aeRed]],
    specks: [[yellowE, aeYellow], [cyanE, aeCyan], [blueE, aeBlue]],
    xTitle: ['AERONET AE (440-870 nm)', 1645, 2077], yTitle: ['POLDER HP AE (440-870 nm)', 1116, 1503],
    label: [1257, 1121],
    statsLeft: { x: 1255, ys: [1188, 1243, 1298, 1352], lines: ['Y=0.697X+0.150', 'R=0.834 N=16790', 'RMSE=0.355', 'BIAS=-0.152'] },
    statsRight: { x: 1850, ys: [1817, 1872, 1927], lines: ['MAE=0.265', 'RMB=0.847', '=EE_AE:0.779'] }
  },
  {
    name: '(f)', box: [2165, 1050, 1085, 1067], plot: [2309, 3210, 1069, 1972],
    xRange: [-0.1, 4], yRange: [-0.1, 4], ticks: aeTicks, minor: aeMinorTicks,
    band: aeBand, upper: aeUpper, lower: aeLower, oneToOne: aeOneToOneNarrow, fit: fitF, fitWidth: 7,
    scatter: scatterF, scatterColor: aeViolet, marker: 'rect',
    clouds: [[cloudF0, aeViolet], [cloudF1, aeIndigo], [cloudF2, aeBlue], [cloudF3, aeCyan], [cloudF4, aeGreen], [cloudF5, aeLime], [cloudF6, aeOrange], [cloudF7, aeOrange], [cloudF8, aeRed], [cloudF9, aeRed]],
    specks: [[yellowF, aeYellow], [cyanF, aeCyan], [blueF, aeBlue]],
    xTitle: ['AERONET AE (440-870 nm)', 2751, 2076], yTitle: ['POLDER Models AE (440-870 nm)', 2187, 1498],
    label: [2334, 1122],
    statsLeft: { x: 2324, ys: [1198, 1253, 1306, 1361], lines: ['Y=0.386X+0.516', 'R=0.629 N=16556', 'RMSE=0.462', 'BIAS=-0.096'] },
    statsRight: { x: 2927, ys: [1806, 1861, 1916], lines: ['MAE=0.370', 'RMB=0.904', '=EE_AE:0.632'] }
  }
];

const FONT_FAMILY = '"Liberation Sans", Arial, sans-serif';
const TEXT_STRETCH = 1.13;
const TEXT_COLOR = '#111';
const FRAME_COLOR = '#222';
const BAND_FILL = '#f1f1f1';
const BAND_LINE = '#808080';
const FIT_COLOR = '#ff1a1a';

Chart.defaults.font.family = FONT_FAMILY;
Chart.defaults.font.weight = 'bold';
Chart.defaults.font.size = 37;
Chart.defaults.color = TEXT_COLOR;

const toPoints = (pairs) => pairs.map(([x, y]) => ({ x, y }));

function addCanvas(box) {
  const canvas = document.createElement('canvas');
  canvas.width = box[2];
  canvas.height = box[3];
  canvas.style.left = box[0] + 'px';
  canvas.style.top = box[1] + 'px';
  document.getElementById('page').appendChild(canvas);

  // The figure's lettering runs wide, so text is widened around its anchor
  const ctx = canvas.getContext('2d');
  const drawText = ctx.fillText.bind(ctx);
  ctx.textStretch = TEXT_STRETCH;
  ctx.fillText = (text, x, y) => {
    const m = ctx.getTransform();
    const p = m.transformPoint(new DOMPoint(x, y));
    ctx.save();
    ctx.setTransform(new DOMMatrix().translate(p.x, p.y).scale(ctx.textStretch, 1).translate(-p.x, -p.y).multiply(m));
    drawText(text, x, y);
    ctx.restore();
  };
  return ctx;
}

function lineLayer(pairs, color, width, dash) {
  return {
    data: toPoints(pairs), showLine: true, fill: false, pointRadius: 0,
    borderColor: color, borderWidth: width, borderDash: dash || []
  };
}

function cloudLayer(pairs, color, marker) {
  return {
    data: toPoints(pairs), showLine: true, fill: 'shape', borderWidth: 0,
    backgroundColor: color, pointStyle: marker, pointRadius: marker === 'rect' ? 11 : 8.5,
    pointBackgroundColor: color, pointBorderWidth: 0
  };
}

function scatterLayer(pairs, color, marker) {
  return {
    data: toPoints(pairs), showLine: false, pointStyle: marker,
    pointRadius: marker === 'rect' ? 11 : 8.5, pointBackgroundColor: color, pointBorderWidth: 0
  };
}

// Paint order runs bottom to top; Chart.js paints higher `order` first
function buildDatasets(p) {
  const layers = [
    { data: toPoints(p.band), showLine: true, fill: 'shape', borderWidth: 0, pointRadius: 0, backgroundColor: BAND_FILL },
    scatterLayer(p.scatter, p.scatterColor, p.marker),
    ...p.clouds.map(([pairs, color]) => cloudLayer(pairs, color, p.marker)),
    ...p.specks.map(([pairs, color]) => scatterLayer(pairs, color, p.marker)),
    lineLayer(p.oneToOne, BAND_LINE, 6, [36, 41]),
    lineLayer(p.upper, BAND_LINE, 6.5),
    lineLayer(p.lower, BAND_LINE, 6.5),
    lineLayer(p.fit, FIT_COLOR, p.fitWidth)
  ];
  layers.forEach((layer, i) => { layer.order = layers.length - i; });
  return layers;
}

// Frame around the plot plus the labels placed by hand on top of the marks
const annotationPlugin = {
  id: 'annotations',
  afterDatasetsDraw(chart, args, opts) {
    const { ctx, chartArea: a } = chart;
    const p = opts.panel;
    const ox = p.box[0];
    const oy = p.box[1];
    ctx.save();
    ctx.fillStyle = TEXT_COLOR;
    ctx.textBaseline = 'middle';
    ctx.textAlign = 'left';
    ctx.font = 'bold 37px ' + FONT_FAMILY;
    [p.statsLeft, p.statsRight].forEach((block) => {
      block.lines.forEach((line, i) => ctx.fillText(line, block.x - ox, block.ys[i] - oy));
    });
    ctx.textStretch = 1;
    ctx.font = 'bold 60px ' + FONT_FAMILY;
    ctx.fillText(p.name, p.label[0] - ox, p.label[1] - oy);

    ctx.textStretch = TEXT_STRETCH;
    ctx.textAlign = 'center';
    ctx.font = 'bold 37px ' + FONT_FAMILY;
    ctx.fillText(p.xTitle[0], p.xTitle[1] - ox, p.xTitle[2] - oy);
    ctx.translate(p.yTitle[1] - ox, p.yTitle[2] - oy);
    ctx.rotate(-Math.PI / 2);
    ctx.textStretch = 1;
    ctx.font = 'bold 41px ' + FONT_FAMILY;
    ctx.fillText(p.yTitle[0], 0, 0);
    ctx.textStretch = TEXT_STRETCH;
    ctx.restore();

    ctx.save();
    ctx.strokeStyle = FRAME_COLOR;
    ctx.lineWidth = 3;
    ctx.strokeRect(a.left, a.top, a.right - a.left, a.bottom - a.top);
    ctx.restore();
  }
};

function fixedTicks(values) {
  return (scale) => { scale.ticks = values.map((value) => ({ value })); };
}

// Tick labels may hang past the plot; keep them from shrinking the chart area
function clearLabelPadding(scale) {
  scale.paddingLeft = 0;
  scale.paddingRight = 0;
  scale.paddingTop = 0;
  scale.paddingBottom = 0;
}

function axisOptions(position, range, values, gutter, tickLength, labelled) {
  const horizontal = position === 'bottom';
  return {
    type: 'linear',
    position,
    min: range[0],
    max: range[1],
    weight: labelled ? 0 : -1,
    border: { display: false },
    grid: { drawOnChartArea: false, drawTicks: true, tickLength: -tickLength, tickWidth: 3, tickColor: FRAME_COLOR },
    ticks: {
      display: labelled,
      autoSkip: false,
      maxRotation: 0,
      minRotation: 0,
      padding: horizontal ? 38 : 37,
      callback: (v) => v.toFixed(1)
    },
    afterBuildTicks: fixedTicks(values),
    afterFit: (scale) => {
      if (horizontal) scale.height = labelled ? gutter : 0;
      else scale.width = labelled ? gutter : 0;
      clearLabelPadding(scale);
    }
  };
}

function drawPanel(p) {
  const ctx = addCanvas(p.box);
  const [left, right, top, bottom] = p.plot;
  const leftGutter = left - p.box[0];
  const bottomGutter = p.box[1] + p.box[3] - bottom;
  new Chart(ctx, {
    type: 'scatter',
    data: { datasets: buildDatasets(p) },
    options: {
      responsive: false,
      animation: false,
      devicePixelRatio: 1,
      layout: { padding: { left: 0, bottom: 0, top: top - p.box[1], right: p.box[0] + p.box[2] - right } },
      plugins: { legend: { display: false }, tooltip: { enabled: false }, annotations: { panel: p } },
      scales: {
        x: axisOptions('bottom', p.xRange, p.ticks, bottomGutter, 18, true),
        y: axisOptions('left', p.yRange, p.ticks, leftGutter, 18, true),
        xMinor: axisOptions('bottom', p.xRange, p.minor, 0, 9, false),
        yMinor: axisOptions('left', p.yRange, p.minor, 0, 9, false)
      }
    },
    plugins: [annotationPlugin]
  });
}

// Colour bar: one stacked bar with one dataset per colour step
function drawColorbar(box, plot, steps) {
  const ctx = addCanvas(box);
  const stride = steps.length / (colorbarLabels.length - 1);
  const positions = colorbarLabels.map((_, i) => i * stride);
  new Chart(ctx, {
    type: 'bar',
    data: {
      labels: [''],
      datasets: steps.map((color) => ({ data: [1], backgroundColor: color, barPercentage: 1, categoryPercentage: 1 }))
    },
    options: {
      responsive: false,
      animation: false,
      devicePixelRatio: 1,
      layout: { padding: { left: plot[0] - box[0], top: plot[2] - box[1], right: 0, bottom: box[1] + box[3] - plot[3] } },
      plugins: {
        legend: { display: false },
        tooltip: { enabled: false }
      },
      scales: {
        x: { stacked: true, display: false },
        y: {
          stacked: true,
          position: 'right',
          min: 0,
          max: steps.length,
          border: { display: false },
          grid: { display: false, drawTicks: false },
          ticks: { padding: 37, autoSkip: false, callback: (v, i) => colorbarLabels[i] },
          afterBuildTicks: fixedTicks(positions),
          afterFit: (scale) => {
            scale.width = box[0] + box[2] - plot[1];
            clearLabelPadding(scale);
          }
        }
      }
    },
    plugins: [{
      id: 'barFrame',
      afterDatasetsDraw(chart) {
        const { ctx: c, chartArea: a } = chart;
        c.save();
        c.strokeStyle = '#555';
        c.lineWidth = 3;
        c.strokeRect(a.left, a.top, a.right - a.left, a.bottom - a.top);
        c.restore();
      }
    }]
  });
}

panels.forEach(drawPanel);
drawColorbar([3215, 0, 242, 1000], [3225, 3335, 40, 943], aodColorSteps);
drawColorbar([3215, 1040, 242, 977], [3226, 3330, 1061, 1964], aeColorSteps);
</script>
</body>
</html>
